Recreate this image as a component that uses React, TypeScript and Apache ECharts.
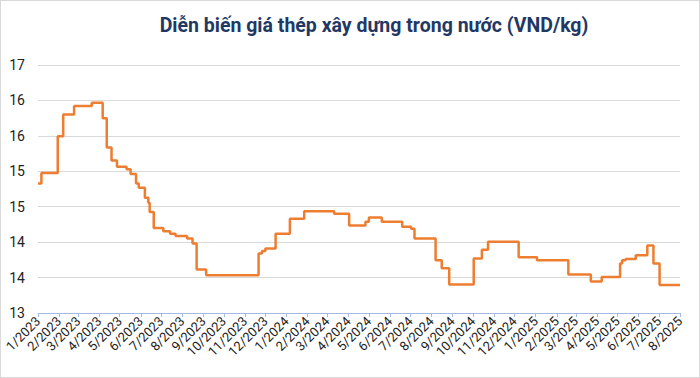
import React, { useEffect, useRef } from "react";
import * as echarts from "echarts";

const titleText = "Diễn biến giá thép xây dựng trong nước (VND/kg)";

// start date of each price level
const changeDates = [
  "2023-01-01", "2023-01-06", "2023-01-30", "2023-02-07", "2023-02-23", "2023-03-21",
  "2023-04-06", "2023-04-12", "2023-04-19", "2023-04-27", "2023-05-11", "2023-05-17",
  "2023-05-25", "2023-05-29", "2023-06-07", "2023-06-12", "2023-06-14", "2023-06-20",
  "2023-07-04", "2023-07-14", "2023-07-22", "2023-08-08", "2023-08-16", "2023-08-22",
  "2023-09-05", "2023-11-21", "2023-11-26", "2023-12-01", "2023-12-16", "2024-01-06",
  "2024-01-27", "2024-03-11", "2024-04-02", "2024-04-26", "2024-05-01", "2024-05-20",
  "2024-06-19", "2024-07-02", "2024-07-07", "2024-08-07", "2024-08-16", "2024-08-27",
  "2024-10-02", "2024-10-14", "2024-10-23", "2024-12-07", "2025-01-03", "2025-02-18",
  "2025-03-23", "2025-04-08", "2025-05-05", "2025-05-08", "2025-05-13", "2025-05-28",
  "2025-06-14", "2025-06-23", "2025-07-02", "2025-08-01",
];

// price level (thousand VND/kg) beginning on each date above
const prices = [
  15.09, 15.26, 15.85, 16.2, 16.34, 16.39,
  16.14, 15.67, 15.46, 15.36, 15.32, 15.24,
  15.09, 15.02, 14.86, 14.78, 14.63, 14.37,
  14.32, 14.28, 14.24, 14.2, 14.12, 13.7,
  13.61, 13.96, 14.0, 14.04, 14.28, 14.52,
  14.64, 14.6, 14.41, 14.47, 14.54, 14.47,
  14.39, 14.36, 14.2, 13.85, 13.72, 13.46,
  13.88, 14.02, 14.15, 13.9, 13.85, 13.62,
  13.51, 13.58, 13.8, 13.85, 13.87, 13.93,
  14.09, 13.8, 13.45, 13.45,
];

const yTickLabels = ["13", "14", "14", "15", "15", "16", "16", "17"];
const xStart = "2023-01-01";
const xEnd = "2025-08-01";

export default function App() {
  const ref = useRef<HTMLDivElement>(null);
  useEffect(() => {
    document.body.style.margin = "0";
    const chart = echarts.init(ref.current!, null, { renderer: "svg" });
    const data = changeDates.map((d, i) => [d, prices[i]]);
    chart.setOption({
      animation: false,
      backgroundColor: "#ffffff",
      title: {
        text: titleText,
        left: 368,
        top: 9,
        textAlign: "center",
        textStyle: {
          fontFamily: "Roboto",
          fontWeight: "bold",
          fontSize: 19.5,
          color: "#1f3864",
        },
      },
      grid: { left: 37, right: 19, top: 64, bottom: 64, containLabel: false },
      xAxis: {
        type: "time",
        min: xStart,
        max: xEnd,
        splitNumber: 31,
        axisLine: { show: true, lineStyle: { color: "#a4b9e3", width: 1 } },
        axisTick: { show: true, length: 4, lineStyle: { color: "#a4b9e3" } },
        splitLine: { show: false },
        axisLabel: {
          rotate: 45,
          margin: 6,
          fontFamily: "Roboto",
          fontSize: 13,
          color: "#222",
          showMinLabel: true,
          showMaxLabel: true,
          formatter: (v: number) => {
            const d = new Date(v);
            return `${d.getMonth() + 1}/${d.getFullYear()}`;
          },
        },
      },
      yAxis: [
        {
          type: "value",
          min: 13,
          max: 17,
          show: false,
          splitLine: { show: false },
        },
        {
          type: "value",
          min: 0,
          max: 7,
          interval: 1,
          position: "left",
          axisLine: { show: false },
          axisTick: { show: false },
          axisLabel: {
            margin: 13,
            fontFamily: "Roboto",
            fontSize: 14,
            color: "#222",
            formatter: (v: number) => yTickLabels[Math.round(v)] ?? "",
          },
          splitLine: { show: true, lineStyle: { color: "#d9d9d9", width: 1 } },
        },
      ],
      series: [
        {
          type: "line",
          yAxisIndex: 0,
          step: "end",
          data,
          showSymbol: false,
          symbol: "none",
          lineStyle: { color: "#ed7d31", width: 2.5 },
          z: 3,
        },
      ],
    });
    return () => chart.dispose();
  }, []);
  return (
    <div
      ref={ref}
      style={{
        width: 700,
        height: 378,
        boxSizing: "border-box",
        border: "1px solid #d9d9d9",
      }}
    />
  );
}
